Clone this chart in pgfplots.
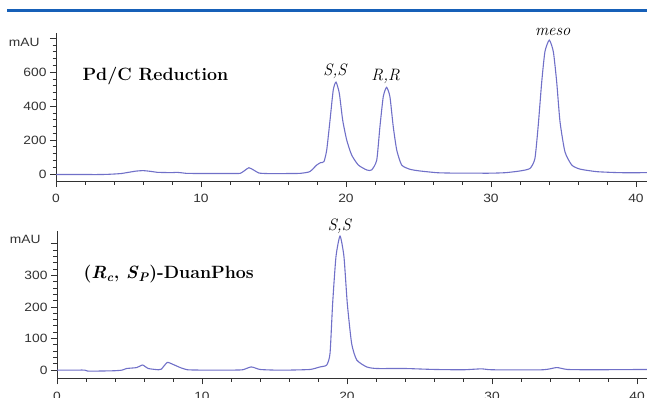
\documentclass[border=0pt]{standalone}
\usepackage{fontspec}
\usepackage{pgfplots}
\pgfplotsset{compat=1.18}
\newfontfamily\arial[FakeStretch=1.15]{Liberation Sans}
\definecolor{trace}{RGB}{112,112,200}
\definecolor{rule}{RGB}{22,96,184}
\definecolor{axgray}{RGB}{50,50,50}

\pgfplotsset{chrom/.style={
  scale only axis, clip=false,
  axis x line*=bottom, axis y line*=left,
  axis line style={axgray, line width=0.8pt},
  tick align=outside,
  every tick/.style={axgray, line width=0.7pt},
  major tick length=6pt, minor tick length=3.5pt,
  xtick={0,10,20,30,40}, minor x tick num=4,
  /pgf/number format/assume math mode=true,
  tick label style={font=\arial\fontsize{12}{12}\selectfont, text=axgray},
  xticklabel style={yshift=-4pt},
  yticklabel style={xshift=0pt},
  every axis plot post/.append style={trace, line width=1.1pt, mark=none, smooth, tension=0.35},
}}

\begin{document}
\begin{tikzpicture}
\path[use as bounding box] (0pt,0pt) rectangle (647pt,397pt);
\fill[rule] (7pt,384.7pt) rectangle (647pt,387.7pt);

% ---------- top panel ----------
\begin{axis}[chrom,
  at={(56pt,216pt)}, anchor=south west,
  width=591pt, height=148pt,
  xmin=0, xmax=40.76, ymin=-41, ymax=830,
  ytick={0,200,400,600,800}, yticklabels={0,200,400,600,{}},
  minor y tick num=4]
\addplot coordinates {
(0,-3) (1,-3) (2,-3) (3,-3) (3.5,-2) (4,0) (4.5,3) (5,10) (5.5,17) (6,20) (6.5,16)
(7,10) (7.5,9) (8,8) (8.3,10) (8.7,7) (9,4) (10,3) (11,3) (12,3) (12.7,4) (13.0,20)
(13.3,37) (13.6,25) (14.0,6) (14.5,3) (15,2) (16,3) (16.83,4) (17.5,14) (17.98,53)
(18.25,67) (18.48,73) (18.67,141) (18.9,318) (19.12,494) (19.31,541) (19.54,475)
(19.77,318) (20.05,200) (20.39,112) (20.85,53) (21.43,24) (21.77,24) (22.12,82)
(22.34,278) (22.57,455) (22.8,510) (23.03,455) (23.26,278) (23.5,141) (23.84,53)
(24.41,28) (25.1,18) (26.25,8) (27,6) (28,5) (29,5) (30,5) (31,8) (32.0,18)
(32.69,33) (33.03,92) (33.26,288) (33.5,543) (33.72,720) (34.02,788) (34.3,720)
(34.53,543) (34.76,308) (35.1,131) (35.57,53) (36.14,29) (37.3,14) (38.9,8) (40.76,8)
};
\node[font=\itshape\fontsize{16.5}{17}\selectfont] at (axis cs:19.24,604) {S,S};
\node[font=\itshape\fontsize{16.5}{17}\selectfont] at (axis cs:22.74,574) {R,R};
\node[font=\itshape\fontsize{16.5}{17}\selectfont] at (axis cs:34.26,837) {meso};
\node[anchor=east, font=\arial\fontsize{12}{12}\selectfont, text=axgray, xshift=-13pt] at (axis cs:0,776) {mAU};
\end{axis}

% ---------- bottom panel ----------
\begin{axis}[chrom,
  at={(57pt,18.7pt)}, anchor=south west,
  width=590pt, height=147.6pt,
  xmin=0, xmax=40.69, ymin=-26, ymax=441,
  ytick={0,100,200,300,400}, yticklabels={0,100,200,300,{}},
  minor y tick num=4]
\addplot coordinates {
(0,0) (1,0) (1.9,0) (2.1,-3) (3,-3) (4,-2) (4.5,0) (4.8,5) (5.5,8) (5.9,16) (6.3,5)
(7,1) (7.2,3) (7.6,24) (8,18) (8.5,8) (9,1) (10,0) (11,0) (12,0) (12.8,1) (13.4,10)
(14,2) (15,0) (16,0) (17.45,2) (18.14,10) (18.6,16) (18.83,53) (19.01,211) (19.24,359)
(19.52,424) (19.79,359) (20.02,211) (20.32,84) (20.67,32) (21.36,10) (22.05,5)
(24,5) (26,2) (28,1) (29.3,4) (30,1) (33.5,1) (34.46,8) (35.2,2) (37,1) (40.69,2)
};
\node[font=\itshape\fontsize{16.5}{17}\selectfont] at (axis cs:19.47,455) {S,S};
\node[anchor=east, font=\arial\fontsize{12}{12}\selectfont, text=axgray, xshift=-13pt] at (axis cs:0,414) {mAU};
\end{axis}

% ---------- panel titles ----------
\node[anchor=west, font=\bfseries\fontsize{17.8}{20}\selectfont] at (79pt,321pt) {Pd/C Reduction};
\node[anchor=west, font=\bfseries\fontsize{17.8}{20}\selectfont] at (80pt,123pt)
  {(\textit{R}\textsubscript{\textit{c}}, \textit{S}\textsubscript{\textit{P}})-DuanPhos};
\end{tikzpicture}
\end{document}
